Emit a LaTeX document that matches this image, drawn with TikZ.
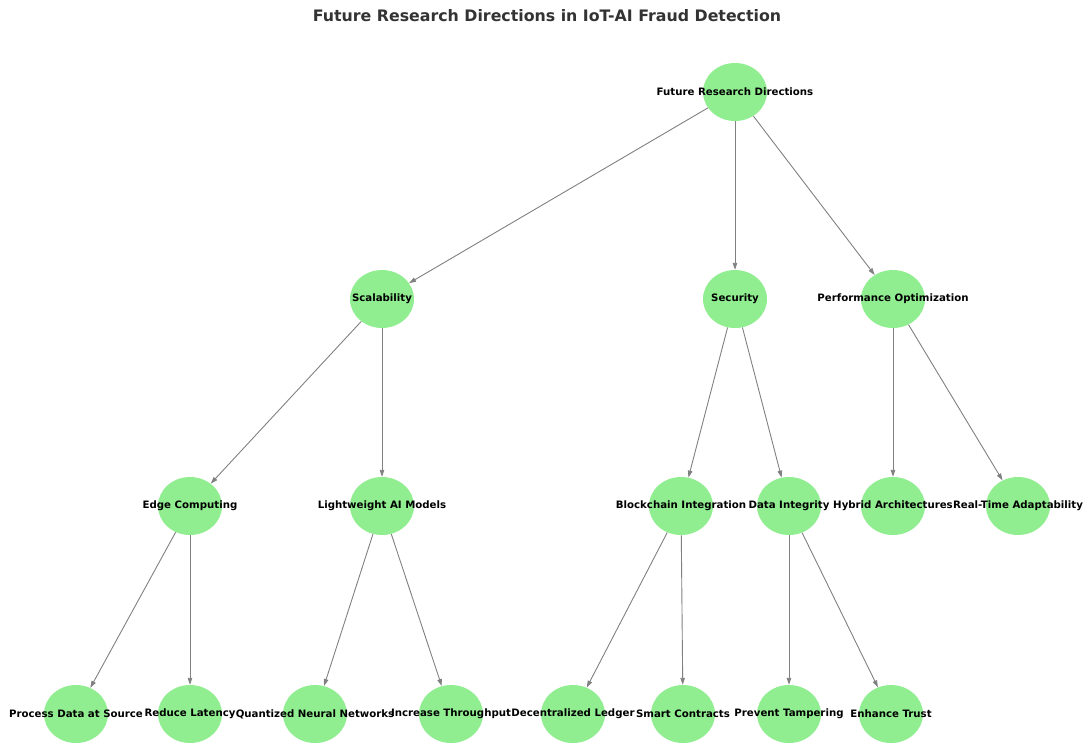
\documentclass[tikz,border=0pt]{standalone}
\usepackage{fontspec}
\setmainfont{DejaVu Sans}
\usetikzlibrary{shapes.geometric,arrows.meta}
\definecolor{nodegreen}{HTML}{90EE90}
\definecolor{edgegray}{HTML}{808080}
\definecolor{titlegray}{HTML}{333333}
\pgfdeclarelayer{bg}
\pgfsetlayers{bg,main}
\tikzset{
  topic/.style={ellipse, fill=nodegreen, draw=none, minimum width=64pt, minimum height=58pt, inner sep=0pt},
  lbl/.style={font=\fontsize{10.2}{12}\selectfont\bfseries, text=black, inner sep=0pt},
  link/.style={draw=edgegray, line width=0.9pt, -{Triangle[length=7pt,width=4.5pt]}},
}
\begin{document}
\begin{tikzpicture}[x=1pt,y=-1pt]
\useasboundingbox (0,0) rectangle (1086,742);
\node[font=\fontsize{15.8}{18}\selectfont\bfseries, text=titlegray] (title) at (547,16) {Future Research Directions in IoT-AI Fraud Detection};
% level 0
\node[topic] (root) at (735,92) {};
% level 1
\node[topic] (scal) at (382,299) {};
\node[topic] (sec) at (735,299) {};
\node[topic] (perf) at (893,299) {};
% level 2
\node[topic] (edge) at (190,506) {};
\node[topic] (light) at (382,506) {};
\node[topic] (block) at (681,506) {};
\node[topic] (integ) at (789,506) {};
\node[topic] (hybrid) at (893,506) {};
\node[topic] (rt) at (1018,506) {};
% level 3
\node[topic] (proc) at (76,714) {};
\node[topic] (lat) at (190,714) {};
\node[topic] (quant) at (315,714) {};
\node[topic] (thr) at (451,714) {};
\node[topic] (ledger) at (573,714) {};
\node[topic] (smart) at (683,714) {};
\node[topic] (tamp) at (789,714) {};
\node[topic] (trust) at (891,714) {};
% labels
\node[lbl] (lroot) at (root) {Future Research Directions};
\node[lbl] (lscal) at (scal) {Scalability};
\node[lbl] (lsec) at (sec) {Security};
\node[lbl] (lperf) at (perf) {Performance Optimization};
\node[lbl] (ledge) at (edge) {Edge Computing};
\node[lbl] (llight) at (light) {Lightweight AI Models};
\node[lbl] (lblock) at (block) {Blockchain Integration};
\node[lbl] (linteg) at (integ) {Data Integrity};
\node[lbl] (lhybrid) at (hybrid) {Hybrid Architectures};
\node[lbl] (lrt) at (rt) {Real-Time Adaptability};
\node[lbl] (lproc) at (proc) {Process Data at Source};
\node[lbl] (llat) at (lat) {Reduce Latency};
\node[lbl] (lquant) at (quant) {Quantized Neural Networks};
\node[lbl] (lthr) at (thr) {Increase Throughput};
\node[lbl] (lledger) at (ledger) {Decentralized Ledger};
\node[lbl] (lsmart) at (smart) {Smart Contracts};
\node[lbl] (ltamp) at (tamp) {Prevent Tampering};
\node[lbl] (ltrust) at (trust) {Enhance Trust};
\begin{pgfonlayer}{bg}
\draw[link] (root) -- (scal);
\draw[link] (root) -- (sec);
\draw[link] (root) -- (perf);
\draw[link] (scal) -- (edge);
\draw[link] (scal) -- (light);
\draw[link] (sec) -- (block);
\draw[link] (sec) -- (integ);
\draw[link] (perf) -- (hybrid);
\draw[link] (perf) -- (rt);
\draw[link] (edge) -- (proc);
\draw[link] (edge) -- (lat);
\draw[link] (light) -- (quant);
\draw[link] (light) -- (thr);
\draw[link] (block) -- (ledger);
\draw[link] (block) -- (smart);
\draw[link] (integ) -- (tamp);
\draw[link] (integ) -- (trust);
\end{pgfonlayer}
\end{tikzpicture}
\end{document}
